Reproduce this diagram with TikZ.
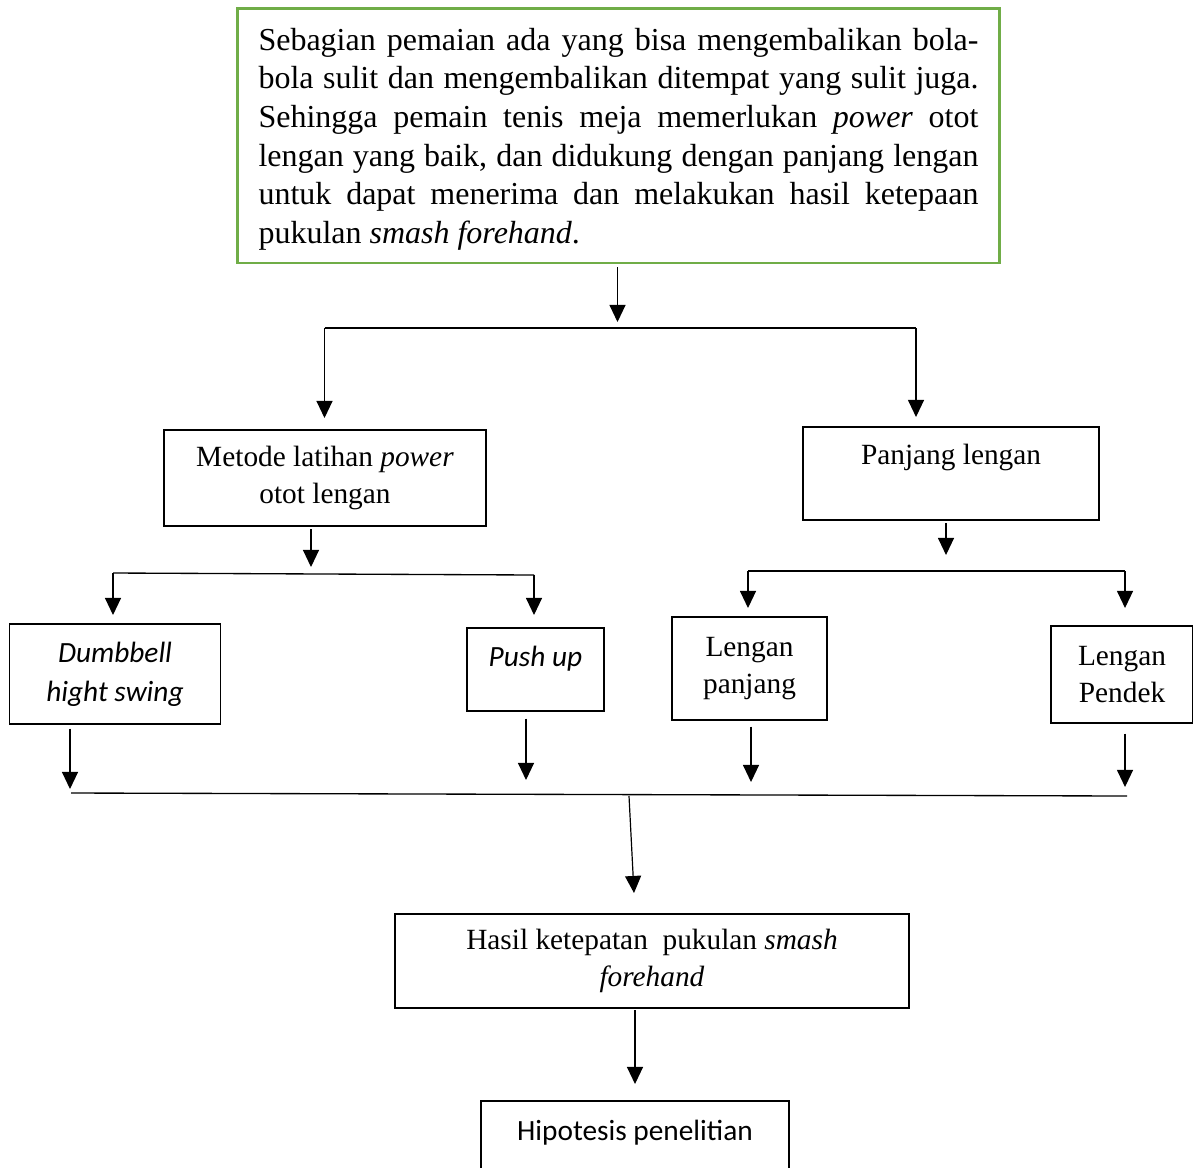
\documentclass[tikz,border=0pt]{standalone}
\usepackage{fontspec}
\setmainfont{Liberation Serif}
\newfontfamily\calibri{Carlito}
\usetikzlibrary{arrows.meta}
\definecolor{boxgreen}{HTML}{70AD47}
\tikzset{
  box/.style={
    % The shape:
    shape=rectangle,inner sep=0pt,
    % The border:
    draw=black,line width=0.5pt,
    % The text:
    align=center,font=\fontsize{11}{14}\selectfont}}
\tikzset{
  sbox/.style={
    box,
    % Calibri-like sans text
    font=\calibri\fontsize{11}{14.5}\selectfont}}
\tikzset{
  mainbox/.style={
    box,
    % The border:
    draw=boxgreen,line width=1.1pt,
    % The text:
    align=justify,text width=270pt,text height=11pt,font=\fontsize{12}{14.5}\selectfont}}
\tikzset{
  arr/.style={-{Triangle[width=6pt,length=6.4pt]},line width=0.45pt},
  bar/.style={line width=0.5pt}}

\begin{document}
\begin{tikzpicture}[x=0.375pt,y=-0.375pt]
	\useasboundingbox (0,0) rectangle (1193,1167);
	% The boxes
	\node[mainbox,minimum width=286pt,minimum height=95.6pt] (teori) at (618.5,135.5)
		{Sebagian pemaian ada yang bisa mengembalikan bola-\linebreak
		bola sulit dan mengembalikan ditempat yang sulit juga.\linebreak
		Sehingga pemain tenis meja memerlukan \textit{power} otot\linebreak
		lengan yang baik, dan didukung dengan panjang lengan\linebreak
		untuk dapat menerima dan melakukan hasil ketepaan\linebreak
		pukulan \textit{smash forehand}.};
	\node[box,minimum width=120.75pt,minimum height=36pt] (metode) at (325,478) {Metode latihan \textit{power}\\otot lengan};
	\node[box,minimum width=111pt,minimum height=34.9pt] (panjang) at (951,473.5) {Panjang lengan\\[-4pt] \strut};
	\node[sbox,minimum width=79pt,minimum height=37.5pt] (dumbbell) at (115,674) {\textit{Dumbbell}\\\textit{hight swing}};
	\node[sbox,minimum width=51.4pt,minimum height=31.1pt] (pushup) at (535.5,669.5) {\textit{Push up}\\[-9pt]\strut};
	\node[box,minimum width=58.1pt,minimum height=38.6pt] (lpanjang) at (749.5,668.5) {Lengan\\panjang};
	\node[box,minimum width=53.25pt,minimum height=36.4pt] (lpendek) at (1122,674.5) {Lengan\\Pendek};
	\node[box,minimum width=192.75pt,minimum height=35.25pt] (hasil) at (652,961) {Hasil ketepatan\ \ pukulan \textit{smash}\\\textit{forehand}};
	\node[sbox,minimum width=115.5pt,minimum height=37.1pt] (hipotesis) at (635,1150.5) {Hipotesis penelitian\\[-4pt] \strut};
	% Lines out of teori
	\coordinate (s1) at (617.5,322);
	\coordinate (b1l) at (324.5,328);
	\coordinate (b1r) at (916,328);
	\draw[arr,shorten <=1pt] (teori.south -| s1) -- (s1);
	\draw[bar] (b1l) -- (b1r);
	\coordinate (t1l) at (324.5,418);
	\coordinate (t1r) at (916,417);
	\draw[arr] (b1l) -- (t1l);
	\draw[arr] (b1r) -- (t1r);
	% Lines out of metode
	\coordinate (s2) at (311,567);
	\coordinate (b2l) at (113,573);
	\coordinate (b2r) at (534,575);
	\draw[arr,shorten <=1pt] (metode.south -| s2) -- (s2);
	\draw[bar] (b2l) -- (b2r);
	\coordinate (t2l) at (113,615);
	\coordinate (t2r) at (534,615);
	\draw[arr] (b2l) -- (t2l);
	\draw[arr] (b2r) -- (t2r);
	% Lines out of panjang
	\coordinate (s3) at (946,555);
	\coordinate (b3l) at (748,571);
	\coordinate (b3r) at (1125,571);
	\draw[arr,shorten <=1pt] (panjang.south -| s3) -- (s3);
	\draw[bar] (b3l) -- (b3r);
	\coordinate (t3l) at (748,608);
	\coordinate (t3r) at (1125,608);
	\draw[arr] (b3l) -- (t3l);
	\draw[arr] (b3r) -- (t3r);
	% Lines out of the four leaves
	\coordinate (e1) at (70,789);
	\coordinate (e2) at (526,780);
	\coordinate (e3) at (751,782);
	\coordinate (e4) at (1125,787);
	\draw[arr,shorten <=1.5pt] (dumbbell.south -| e1) -- (e1);
	\draw[arr,shorten <=2.6pt] (pushup.south -| e2) -- (e2);
	\draw[arr,shorten <=2.2pt] (lpanjang.south -| e3) -- (e3);
	\draw[arr,shorten <=3.7pt] (lpendek.south -| e4) -- (e4);
	% The joining line
	\coordinate (b4l) at (71,793);
	\coordinate (b4r) at (1127,796);
	\coordinate (b4m) at (629,796);
	\coordinate (s4) at (634,893);
	\draw[bar] (b4l) -- (b4r);
	\draw[arr] (b4m) -- (s4);
	% Lines out of hasil
	\coordinate (s5) at (635,1084);
	\draw[arr,shorten <=0.5pt] (hasil.south -| s5) -- (s5);
\end{tikzpicture}
\end{document}
